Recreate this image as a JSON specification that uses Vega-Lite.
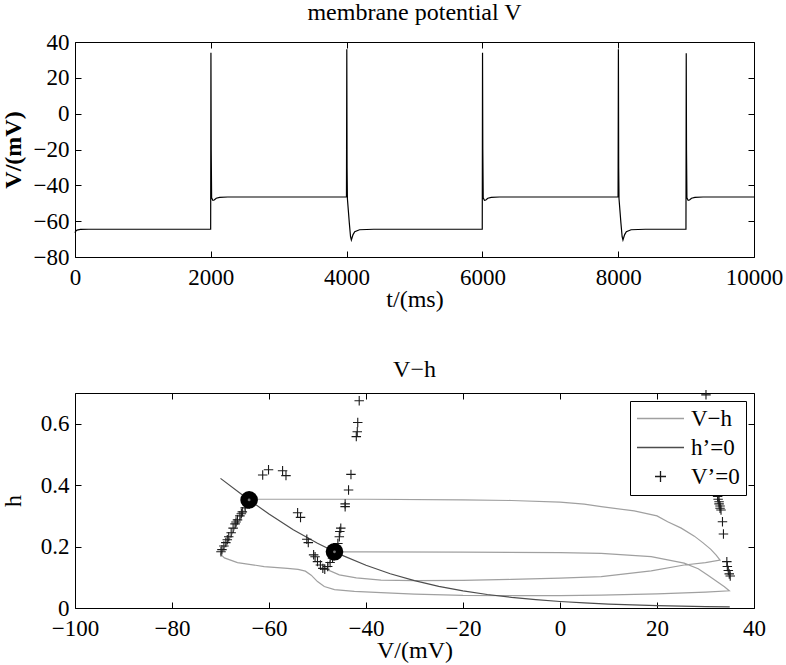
{
  "$schema": "https://vega.github.io/schema/vega-lite/v6.json",
  "background": "white",
  "padding": {"left": 0, "top": 0, "right": 0, "bottom": 0},
  "bounds": "flush",
  "spacing": 136,
  "resolve": {"scale": {"color": "independent"}, "legend": {"color": "independent"}},
  "config": {
    "font": "Times New Roman",
    "style": {"guide-label": {"font": "Times New Roman", "fill": "#000"}, "guide-title": {"font": "Times New Roman", "fill": "#000"}, "group-title": {"font": "Times New Roman"}},
    "view": {"stroke": "#000", "strokeWidth": 1},
    "axis": {"domain": false, "grid": false, "ticks": true, "tickColor": "#000", "tickSize": -6, "tickWidth": 1, "labelFont": "Times New Roman", "labelFontSize": 23, "labelColor": "#000", "titleFont": "Times New Roman", "titleFontSize": 24, "titleColor": "#000", "titleFontWeight": "normal", "labelFlush": false, "labelOverlap": false, "labelPadding": 8},
    "title": {"font": "Times New Roman", "fontSize": 24, "fontWeight": "normal", "color": "#000", "offset": 6},
    "legend": {"orient": "top-right", "offset": 8, "strokeColor": "#000", "fillColor": "#fff", "padding": 6, "labelFont": "Times New Roman", "labelFontSize": 23, "labelColor": "#000", "symbolSize": 100, "symbolStrokeWidth": 1.3, "symbolOffset": 13, "labelOffset": 19, "rowPadding": 5, "cornerRadius": 0}
  },
  "datasets": {
    "vt": [
      {"t": 0, "V": -66.5}, {"t": 10, "V": -65.6}, {"t": 30, "V": -65}, {"t": 80, "V": -64.6}, {"t": 200, "V": -64.5}, {"t": 1998, "V": -64.5},
      {"t": 2002, "V": 34}, {"t": 2006, "V": -20}, {"t": 2012, "V": -47}, {"t": 2030, "V": -48.4}, {"t": 2050, "V": -48.2}, {"t": 2080, "V": -47.2}, {"t": 2130, "V": -46.7}, {"t": 2250, "V": -46.5},
      {"t": 3998, "V": -46.5}, {"t": 4003, "V": 36}, {"t": 4007, "V": -30}, {"t": 4012, "V": -47.5}, {"t": 4025, "V": -53.8}, {"t": 4040, "V": -61}, {"t": 4058, "V": -68.7}, {"t": 4070, "V": -70.5}, {"t": 4095, "V": -67.5}, {"t": 4120, "V": -65.9}, {"t": 4190, "V": -64.8}, {"t": 4400, "V": -64.5},
      {"t": 5998, "V": -64.5}, {"t": 6002, "V": 34}, {"t": 6006, "V": -20}, {"t": 6012, "V": -47}, {"t": 6030, "V": -48.4}, {"t": 6050, "V": -48.2}, {"t": 6080, "V": -47.2}, {"t": 6130, "V": -46.7}, {"t": 6250, "V": -46.5},
      {"t": 7998, "V": -46.5}, {"t": 8003, "V": 36}, {"t": 8007, "V": -30}, {"t": 8012, "V": -47.5}, {"t": 8025, "V": -53.8}, {"t": 8040, "V": -61}, {"t": 8058, "V": -68.7}, {"t": 8070, "V": -70.5}, {"t": 8095, "V": -67.5}, {"t": 8120, "V": -65.9}, {"t": 8190, "V": -64.8}, {"t": 8400, "V": -64.5},
      {"t": 8998, "V": -64.5}, {"t": 9002, "V": 33.7}, {"t": 9006, "V": -20}, {"t": 9012, "V": -47}, {"t": 9030, "V": -48.4}, {"t": 9050, "V": -48.2}, {"t": 9080, "V": -47.2}, {"t": 9130, "V": -46.7}, {"t": 9250, "V": -46.5}, {"t": 10000, "V": -46.5}
    ],
    "traj": [
      {"i": 1, "V": -64.1, "h": 0.354, "series": "V−h"}, {"i": 2, "V": -55, "h": 0.354, "series": "V−h"}, {"i": 3, "V": -40, "h": 0.354, "series": "V−h"}, {"i": 4, "V": -20, "h": 0.352, "series": "V−h"}, {"i": 5, "V": -10, "h": 0.35, "series": "V−h"}, {"i": 6, "V": 0, "h": 0.345, "series": "V−h"}, {"i": 7, "V": 5, "h": 0.338, "series": "V−h"}, {"i": 8, "V": 8.5, "h": 0.33, "series": "V−h"}, {"i": 9, "V": 15.3, "h": 0.316, "series": "V−h"}, {"i": 10, "V": 20, "h": 0.3, "series": "V−h"}, {"i": 11, "V": 22.2, "h": 0.281, "series": "V−h"}, {"i": 12, "V": 25, "h": 0.26, "series": "V−h"}, {"i": 13, "V": 27.7, "h": 0.234, "series": "V−h"}, {"i": 14, "V": 29.5, "h": 0.212, "series": "V−h"}, {"i": 15, "V": 31.1, "h": 0.191, "series": "V−h"}, {"i": 16, "V": 32.2, "h": 0.172, "series": "V−h"}, {"i": 17, "V": 33, "h": 0.156, "series": "V−h"},
      {"i": 18, "V": 30, "h": 0.148, "series": "V−h"}, {"i": 19, "V": 25.6, "h": 0.14, "series": "V−h"}, {"i": 20, "V": 18.8, "h": 0.121, "series": "V−h"}, {"i": 21, "V": 8.5, "h": 0.102, "series": "V−h"}, {"i": 22, "V": 0, "h": 0.097, "series": "V−h"}, {"i": 23, "V": -10, "h": 0.093, "series": "V−h"}, {"i": 24, "V": -20, "h": 0.09, "series": "V−h"}, {"i": 25, "V": -30, "h": 0.089, "series": "V−h"}, {"i": 26, "V": -36.9, "h": 0.091, "series": "V−h"}, {"i": 27, "V": -42, "h": 0.098, "series": "V−h"}, {"i": 28, "V": -45.5, "h": 0.108, "series": "V−h"}, {"i": 29, "V": -47.9, "h": 0.124, "series": "V−h"}, {"i": 30, "V": -47.8, "h": 0.14, "series": "V−h"}, {"i": 31, "V": -47.3, "h": 0.155, "series": "V−h"}, {"i": 32, "V": -46.9, "h": 0.168, "series": "V−h"}, {"i": 33, "V": -46.5, "h": 0.183, "series": "V−h"},
      {"i": 34, "V": -40, "h": 0.183, "series": "V−h"}, {"i": 35, "V": -20, "h": 0.182, "series": "V−h"}, {"i": 36, "V": 0, "h": 0.18, "series": "V−h"}, {"i": 37, "V": 8.5, "h": 0.178, "series": "V−h"}, {"i": 38, "V": 18.8, "h": 0.167, "series": "V−h"}, {"i": 39, "V": 25.6, "h": 0.146, "series": "V−h"}, {"i": 40, "V": 28.5, "h": 0.128, "series": "V−h"}, {"i": 41, "V": 30.5, "h": 0.107, "series": "V−h"}, {"i": 42, "V": 32.5, "h": 0.085, "series": "V−h"}, {"i": 43, "V": 33.9, "h": 0.069, "series": "V−h"}, {"i": 44, "V": 34.9, "h": 0.056, "series": "V−h"},
      {"i": 45, "V": 30, "h": 0.052, "series": "V−h"}, {"i": 46, "V": 20, "h": 0.046, "series": "V−h"}, {"i": 47, "V": 8.5, "h": 0.042, "series": "V−h"}, {"i": 48, "V": 0, "h": 0.04, "series": "V−h"}, {"i": 49, "V": -20, "h": 0.041, "series": "V−h"}, {"i": 50, "V": -30, "h": 0.045, "series": "V−h"}, {"i": 51, "V": -36.9, "h": 0.05, "series": "V−h"}, {"i": 52, "V": -42.4, "h": 0.054, "series": "V−h"}, {"i": 53, "V": -46.5, "h": 0.06, "series": "V−h"}, {"i": 54, "V": -48.6, "h": 0.07, "series": "V−h"}, {"i": 55, "V": -50, "h": 0.086, "series": "V−h"}, {"i": 56, "V": -51.3, "h": 0.107, "series": "V−h"}, {"i": 57, "V": -52.5, "h": 0.12, "series": "V−h"}, {"i": 58, "V": -54, "h": 0.126, "series": "V−h"}, {"i": 59, "V": -56.2, "h": 0.129, "series": "V−h"}, {"i": 60, "V": -61, "h": 0.135, "series": "V−h"}, {"i": 61, "V": -66.5, "h": 0.148, "series": "V−h"}, {"i": 62, "V": -69.2, "h": 0.163, "series": "V−h"}, {"i": 63, "V": -70, "h": 0.175, "series": "V−h"},
      {"i": 64, "V": -69.5, "h": 0.19, "series": "V−h"}, {"i": 65, "V": -68.5, "h": 0.215, "series": "V−h"}, {"i": 66, "V": -67.5, "h": 0.245, "series": "V−h"}, {"i": 67, "V": -66.5, "h": 0.275, "series": "V−h"}, {"i": 68, "V": -65.5, "h": 0.305, "series": "V−h"}, {"i": 69, "V": -64.8, "h": 0.33, "series": "V−h"}, {"i": 70, "V": -64.1, "h": 0.352, "series": "V−h"}
    ],
    "hnull": [
      {"V": -70, "h": 0.422, "series": "h’=0"}, {"V": -65, "h": 0.362, "series": "h’=0"}, {"V": -60, "h": 0.306, "series": "h’=0"}, {"V": -55, "h": 0.255, "series": "h’=0"}, {"V": -50, "h": 0.211, "series": "h’=0"}, {"V": -45, "h": 0.172, "series": "h’=0"}, {"V": -40, "h": 0.139, "series": "h’=0"}, {"V": -35, "h": 0.1115, "series": "h’=0"}, {"V": -30, "h": 0.0889, "series": "h’=0"}, {"V": -25, "h": 0.0705, "series": "h’=0"}, {"V": -20, "h": 0.0557, "series": "h’=0"}, {"V": -15, "h": 0.0439, "series": "h’=0"}, {"V": -10, "h": 0.0345, "series": "h’=0"}, {"V": -5, "h": 0.027, "series": "h’=0"}, {"V": 0, "h": 0.0211, "series": "h’=0"}, {"V": 5, "h": 0.0165, "series": "h’=0"}, {"V": 10, "h": 0.0129, "series": "h’=0"}, {"V": 15, "h": 0.01, "series": "h’=0"}, {"V": 20, "h": 0.0078, "series": "h’=0"}, {"V": 25, "h": 0.0061, "series": "h’=0"}, {"V": 30, "h": 0.0048, "series": "h’=0"}, {"V": 35, "h": 0.0037, "series": "h’=0"}
    ],
    "vnull": [
      {"V": -69.9, "h": 0.183, "series": "V’=0"}, {"V": -69.7, "h": 0.19, "series": "V’=0"}, {"V": -69.3, "h": 0.202, "series": "V’=0"}, {"V": -68.9, "h": 0.213, "series": "V’=0"}, {"V": -68.6, "h": 0.222, "series": "V’=0"}, {"V": -68.3, "h": 0.232, "series": "V’=0"}, {"V": -67.8, "h": 0.245, "series": "V’=0"}, {"V": -67.4, "h": 0.26, "series": "V’=0"}, {"V": -67.0, "h": 0.274, "series": "V’=0"}, {"V": -66.8, "h": 0.28, "series": "V’=0"}, {"V": -66.5, "h": 0.287, "series": "V’=0"}, {"V": -66.0, "h": 0.3, "series": "V’=0"}, {"V": -65.7, "h": 0.307, "series": "V’=0"}, {"V": -65.5, "h": 0.313, "series": "V’=0"}, {"V": -64.9, "h": 0.326, "series": "V’=0"}, {"V": -64.5, "h": 0.339, "series": "V’=0"}, {"V": -64.2, "h": 0.345, "series": "V’=0"},
      {"V": -61.3, "h": 0.433, "series": "V’=0"}, {"V": -60.1, "h": 0.45, "series": "V’=0"}, {"V": -57.2, "h": 0.447, "series": "V’=0"}, {"V": -56.5, "h": 0.431, "series": "V’=0"}, {"V": -54.1, "h": 0.31, "series": "V’=0"}, {"V": -53.5, "h": 0.295, "series": "V’=0"}, {"V": -52.2, "h": 0.224, "series": "V’=0"}, {"V": -51.9, "h": 0.213, "series": "V’=0"}, {"V": -50.8, "h": 0.173, "series": "V’=0"}, {"V": -50.5, "h": 0.167, "series": "V’=0"}, {"V": -50.0, "h": 0.151, "series": "V’=0"}, {"V": -49.4, "h": 0.14, "series": "V’=0"}, {"V": -48.9, "h": 0.129, "series": "V’=0"}, {"V": -48.5, "h": 0.126, "series": "V’=0"},
      {"V": -47.9, "h": 0.135, "series": "V’=0"}, {"V": -47.4, "h": 0.148, "series": "V’=0"}, {"V": -46.9, "h": 0.162, "series": "V’=0"}, {"V": -46.6, "h": 0.17, "series": "V’=0"},
      {"V": -45.8, "h": 0.21, "series": "V’=0"}, {"V": -45.5, "h": 0.232, "series": "V’=0"}, {"V": -45.4, "h": 0.249, "series": "V’=0"}, {"V": -45.2, "h": 0.26, "series": "V’=0"},
      {"V": -44.3, "h": 0.33, "series": "V’=0"}, {"V": -44.3, "h": 0.339, "series": "V’=0"}, {"V": -43.6, "h": 0.384, "series": "V’=0"}, {"V": -43.1, "h": 0.435, "series": "V’=0"},
      {"V": -42.0, "h": 0.558, "series": "V’=0"}, {"V": -41.8, "h": 0.574, "series": "V’=0"}, {"V": -41.7, "h": 0.604, "series": "V’=0"}, {"V": -41.4, "h": 0.675, "series": "V’=0"},
      {"V": 30.1, "h": 0.694, "series": "V’=0"}, {"V": 32.5, "h": 0.363, "series": "V’=0"}, {"V": 32.6, "h": 0.354, "series": "V’=0"}, {"V": 32.8, "h": 0.346, "series": "V’=0"}, {"V": 32.8, "h": 0.339, "series": "V’=0"}, {"V": 33.0, "h": 0.332, "series": "V’=0"}, {"V": 33.0, "h": 0.325, "series": "V’=0"}, {"V": 33.2, "h": 0.319, "series": "V’=0"}, {"V": 33.5, "h": 0.281, "series": "V’=0"}, {"V": 33.7, "h": 0.241, "series": "V’=0"}, {"V": 34.4, "h": 0.151, "series": "V’=0"}, {"V": 34.5, "h": 0.135, "series": "V’=0"}, {"V": 34.7, "h": 0.122, "series": "V’=0"}, {"V": 34.9, "h": 0.111, "series": "V’=0"}, {"V": 35.1, "h": 0.104, "series": "V’=0"}
    ],
    "fixed": [
      {"V": -64.1, "h": 0.352}, {"V": -46.5, "h": 0.183}
    ]
  },
  "vconcat": [
    {
      "title": "membrane potential V",
      "width": 679,
      "height": 215,
      "data": {"name": "vt"},
      "layer": [
        {
          "mark": {"type": "line", "color": "#000", "strokeWidth": 1.2},
          "encoding": {
            "x": {"field": "t", "type": "quantitative", "scale": {"domain": [0, 10000], "nice": false, "zero": false}, "axis": {"orient": "bottom", "values": [0, 2000, 4000, 6000, 8000, 10000], "format": "d", "title": "t/(ms)", "labelPadding": 15, "titlePadding": -2}},
            "y": {"field": "V", "type": "quantitative", "scale": {"domain": [-80, 40], "nice": false, "zero": false}, "axis": {"orient": "left", "values": [-80, -60, -40, -20, 0, 20, 40], "title": "V/(mV)", "titleFontWeight": "bold", "labelPadding": 12, "titleX": -62, "titleY": 107.5, "titleBaseline": "middle", "titleAngle": 270}}
          }
        },
        {
          "mark": {"type": "line", "opacity": 0},
          "encoding": {
            "x": {"field": "t", "type": "quantitative", "axis": {"orient": "top", "values": [0, 2000, 4000, 6000, 8000, 10000], "labels": false, "title": null}},
            "y": {"field": "V", "type": "quantitative", "axis": {"orient": "right", "values": [-80, -60, -40, -20, 0, 20, 40], "labels": false, "title": null}}
          }
        }
      ],
      "resolve": {"axis": {"x": "independent", "y": "independent"}}
    },
    {
      "title": "V−h",
      "width": 679,
      "height": 215,
      "layer": [
        {
          "data": {"name": "traj"},
          "mark": {"type": "line", "strokeWidth": 1.2},
          "encoding": {
            "x": {"field": "V", "type": "quantitative", "scale": {"domain": [-100, 40], "nice": false, "zero": false}, "axis": {"orient": "bottom", "values": [-100, -80, -60, -40, -20, 0, 20, 40], "format": "d", "title": "V/(mV)", "labelPadding": 15, "titlePadding": -2}},
            "y": {"field": "h", "type": "quantitative", "scale": {"domain": [0, 0.7], "nice": false, "zero": false}, "axis": {"orient": "left", "values": [0, 0.2, 0.4, 0.6], "labelExpr": "datum.value == 0 ? '0' : format(datum.value, '.1f')", "title": "h", "labelPadding": 12, "titleX": -62, "titleY": 107.5, "titleBaseline": "middle", "titleAngle": 270}},
            "order": {"field": "i", "type": "quantitative"},
            "color": {"field": "series", "type": "nominal", "scale": {"domain": ["V−h", "h’=0", "V’=0"], "range": ["#a0a0a0", "#4d4d4d", "#1a1a1a"]}, "legend": {"title": null, "encode": {"symbols": {"update": {"shape": {"signal": "datum.value === 'V’=0' ? 'M-1.1,0H1.1M0,-1.1V1.1' : 'M-4.7,0H4.7'"}, "fill": {"value": "transparent"}, "strokeWidth": {"value": 1.3}}}}}}
          }
        },
        {
          "data": {"name": "hnull"},
          "mark": {"type": "line", "strokeWidth": 1.2},
          "encoding": {
            "x": {"field": "V", "type": "quantitative", "axis": {"orient": "top", "values": [-100, -80, -60, -40, -20, 0, 20, 40], "labels": false, "title": null}},
            "y": {"field": "h", "type": "quantitative", "axis": {"orient": "right", "values": [0, 0.2, 0.4, 0.6], "labels": false, "title": null}},
            "color": {"field": "series", "type": "nominal"}
          }
        },
        {
          "data": {"name": "vnull"},
          "mark": {"type": "point", "shape": "M-1,0H1M0,-1V1", "filled": false, "size": 90, "strokeWidth": 1.1, "opacity": 1},
          "encoding": {
            "x": {"field": "V", "type": "quantitative", "axis": null},
            "y": {"field": "h", "type": "quantitative", "axis": null},
            "color": {"field": "series", "type": "nominal"}
          }
        },
        {
          "data": {"name": "fixed"},
          "mark": {"type": "point", "shape": "circle", "filled": true, "size": 310, "color": "#000", "opacity": 1},
          "encoding": {
            "x": {"field": "V", "type": "quantitative", "axis": null},
            "y": {"field": "h", "type": "quantitative", "axis": null}
          }
        },
        {
          "data": {"name": "fixed"},
          "mark": {"type": "point", "shape": "circle", "filled": true, "size": 8, "color": "#777", "opacity": 1},
          "encoding": {
            "x": {"field": "V", "type": "quantitative", "axis": null},
            "y": {"field": "h", "type": "quantitative", "axis": null}
          }
        }
      ],
      "resolve": {"axis": {"x": "independent", "y": "independent"}}
    }
  ]
}
